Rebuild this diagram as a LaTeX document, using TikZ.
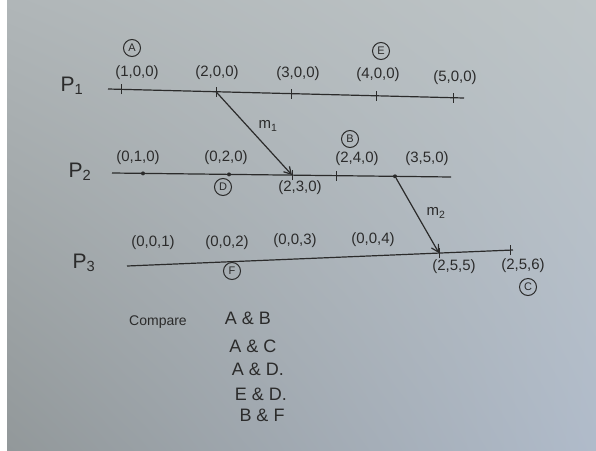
\documentclass[tikz,border=0pt]{standalone}
\usepackage{fontspec}
\setmainfont{Liberation Sans}
\usetikzlibrary{positioning,arrows.meta,shadings}
\definecolor{ink}{HTML}{2B2B2B}
\definecolor{paperTL}{RGB}{176,182,184}
\definecolor{paperTR}{RGB}{190,197,199}
\definecolor{paperBL}{RGB}{146,152,154}
\definecolor{paperBR}{RGB}{176,187,202}

\begin{document}
\begin{tikzpicture}[
		x=1pt,y=-1pt,
		line/.style={draw=ink,line width=1.2pt},
		arrow/.style={line,-{Straight Barb[length=7pt,width=8pt]}},
		tick/.style={draw=ink,line width=1pt},
		dot/.style={circle,fill=ink,inner sep=0pt,minimum size=4pt},
		lbl/.style={text=ink,inner sep=0pt,font=\fontsize{15}{15}\selectfont},
		proc/.style={text=ink,inner sep=0pt,font=\fontsize{21}{21}\selectfont},
		circ/.style={circle,draw=ink,line width=1pt,text=ink,minimum size=17pt,
			inner sep=0pt,font=\fontsize{11}{11}\selectfont},
		cmp/.style={text=ink,inner sep=0pt,font=\fontsize{18}{18}\selectfont}
		]
		
		% paper
		\useasboundingbox (0,0) rectangle (596,450);
		\fill[white] (0,0) rectangle (7,450);
		\shade[upper left=paperTL,upper right=paperTR,
		lower left=paperBL,lower right=paperBR]
		(7,0) rectangle (596,450);
		
		% process P1
		\coordinate (p1s) at (108,89);
		\coordinate (p1e) at (464,98);
		\coordinate (a100) at (121,89.3);
		\coordinate (a200) at (216,91.7);
		\coordinate (a300) at (291,93.6);
		\coordinate (a400) at (376,95.8);
		\coordinate (a500) at (453,97.7);
		\node[proc] (P1) at (72,86) {P\textsubscript{1}};
		\draw[line] (p1s) -- (p1e);
		\foreach \t in {a100,a200,a300,a400,a500}
		\draw[tick] ([yshift=-5]\t) -- ([yshift=5]\t);
		
		\node[lbl] (l100) at (137,73) {(1,0,0)};
		\node[lbl] (l200) at (217,73) {(2,0,0)};
		\node[lbl] (l300) at (298,74) {(3,0,0)};
		\node[lbl] (l400) at (378,75) {(4,0,0)};
		\node[lbl] (l500) at (455,78) {(5,0,0)};
		\node[circ] (A) at (132,48) {A};
		\node[circ] (E) at (381,51) {E};
		
		% process P2
		\coordinate (p2s) at (112,173);
		\coordinate (p2e) at (451,177);
		\node[dot] (b010) at (143,173.4) {};
		\node[dot] (b020) at (229,174.4) {};
		\coordinate (b230) at (292,175.1);
		\coordinate (b240) at (336,175.6);
		\node[dot] (b350) at (395,176.3) {};
		\node[proc] (P2) at (80,172) {P\textsubscript{2}};
		\draw[line] (p2s) -- (p2e);
		\draw[tick] ([yshift=-5]b240) -- ([yshift=5]b240);
		\draw[tick] ([yshift=-5]b230) -- ([yshift=5]b230);
		
		\node[lbl] (l010) at (138,158) {(0,1,0)};
		\node[lbl] (l020) at (226,158) {(0,2,0)};
		\node[lbl] (l230) at (300,188) {(2,3,0)};
		\node[lbl] (l240) at (357,159) {(2,4,0)};
		\node[lbl] (l350) at (427,159) {(3,5,0)};
		\node[circ] (D) at (223,187) {D};
		\node[circ] (B) at (350,139) {B};
		
		% process P3
		\coordinate (p3s) at (127,266);
		\coordinate (p3e) at (513,250);
		\coordinate (c255) at (439,253.1);
		\coordinate (c256) at (510,250.1);
		\node[proc] (P3) at (84,263) {P\textsubscript{3}};
		\draw[line] (p3s) -- (p3e);
		\draw[tick] ([yshift=-5]c255) -- ([yshift=5]c255);
		\draw[tick] ([yshift=-5]c256) -- ([yshift=5]c256);
		
		\node[lbl] (l001) at (153,243) {(0,0,1)};
		\node[lbl] (l002) at (227,243) {(0,0,2)};
		\node[lbl] (l003) at (295,241) {(0,0,3)};
		\node[lbl] (l004) at (373,240) {(0,0,4)};
		\node[lbl] (l255) at (454,267) {(2,5,5)};
		\node[lbl] (l256) at (523,266) {(2,5,6)};
		\node[circ] (F) at (232,271) {F};
		\node[circ] (C) at (528,287) {C};
		
		% messages
		\draw[arrow] (a200) -- (b230);
		\draw[arrow] (b350) -- (c255);
		\node[lbl] (m1) at (268,126) {m\textsubscript{1}};
		\node[lbl] (m2) at (436,213) {m\textsubscript{2}};
		
		% pairs to compare
		\node[lbl,font=\fontsize{14}{14}\selectfont] (cmp) at (158,322) {Compare};
		\node[cmp] (ab) at (248,318) {A \& B};
		\node[cmp] (ac) at (253,346) {A \& C};
		\node[cmp] (ad) at (258,369) {A \& D.};
		\node[cmp] (ed) at (261,394) {E \& D.};
		\node[cmp] (bf) at (262,415) {B \& F};
		
	\end{tikzpicture}
\end{document}
